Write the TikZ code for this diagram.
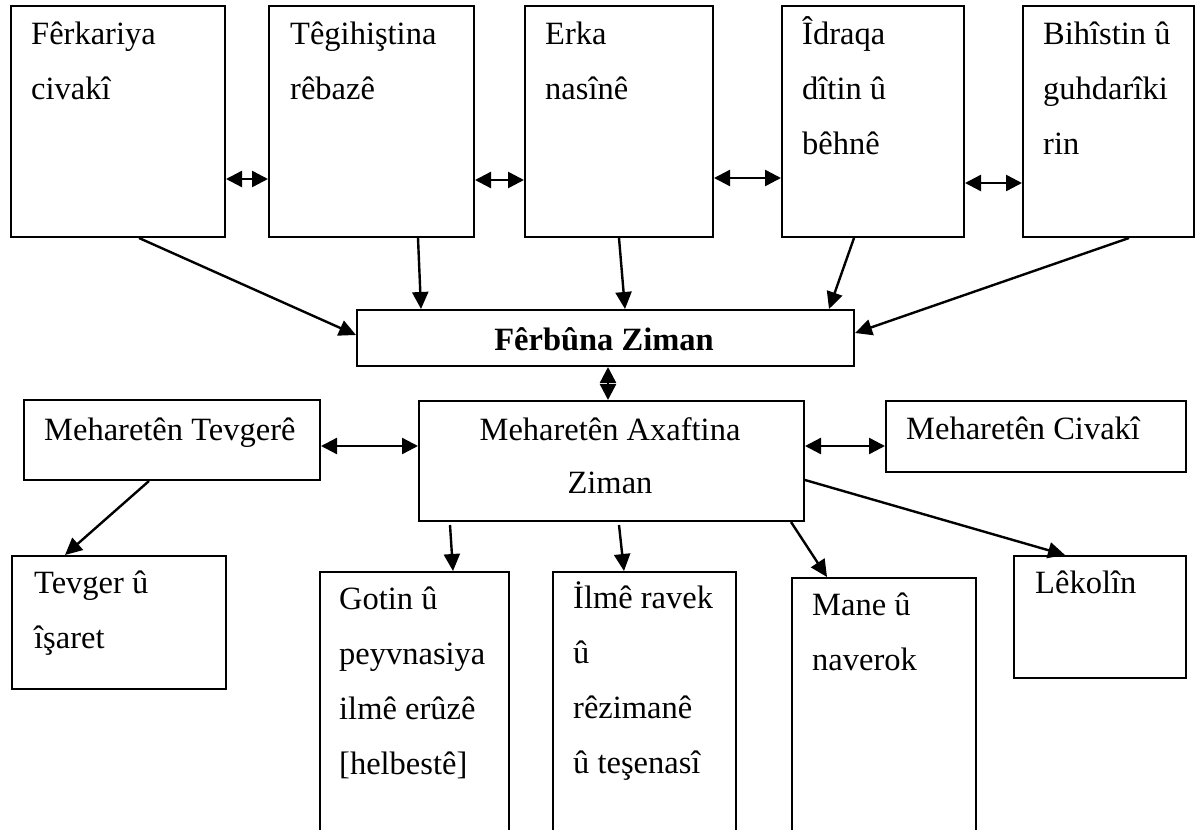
\documentclass[tikz,border=0pt]{standalone}
\usepackage{fontspec}
\setmainfont{Liberation Serif}
\usetikzlibrary{arrows.meta,calc}
\begin{document}
\begin{tikzpicture}[x=1pt,y=-1pt,
  box/.style={draw, line width=2pt, rectangle, inner sep=0pt, anchor=north west},
  txt/.style={font=\fontsize{32.5}{55}\selectfont, align=left, inner sep=0pt, anchor=base west},
  ctxt/.style={font=\fontsize{32.5}{53}\selectfont, align=center, inner sep=0pt, anchor=base},
  arr/.style={line width=2.4pt, -{Triangle[length=17pt,width=16pt]}},
  darr/.style={line width=2.4pt, {Triangle[length=16pt,width=16pt]}-{Triangle[length=16pt,width=16pt]}}]
\useasboundingbox (0,0) rectangle (1198,829);
% top row
\node[box, minimum width=214pt, minimum height=231pt] (b1) at (10,5) {};
\node[box, minimum width=205pt, minimum height=231pt] (b2) at (268,5) {};
\node[box, minimum width=188pt, minimum height=231pt] (b3) at (524,5) {};
\node[box, minimum width=182pt, minimum height=231pt] (b4) at (781,5) {};
\node[box, minimum width=171pt, minimum height=231pt] (b5) at (1022,5) {};
% (anchor base = baseline of the last line)
\node[txt] (t1) at (31,100) {Fêrkariya\\civakî};
\node[txt] (t2) at (290,100) {Têgihiştina\\rêbazê};
\node[txt] (t3) at (545,100) {Erka\\nasînê};
\node[txt] (t4) at (802,155) {Îdraqa\\dîtin û\\bêhnê};
\node[txt] (t5) at (1043,155) {Bihîstin û\\guhdarîki\\rin};
% centre
\node[box, minimum width=497pt, minimum height=56pt] (fz) at (356,309) {};
\node[ctxt, font=\fontsize{32.5}{53}\selectfont\bfseries] (tfz) at (604,350) {Fêrbûna Ziman};
\node[box, minimum width=296pt, minimum height=80pt] (tv) at (23,399) {};
\node[txt] (ttv) at (44,440) {Meharetên Tevgerê};
\node[box, minimum width=385pt, minimum height=120pt] (ax) at (418,400) {};
\node[ctxt] (tax) at (610,493) {Meharetên Axaftina\\Ziman};
\node[box, minimum width=300pt, minimum height=71pt] (cv) at (885,400) {};
\node[txt] (tcv) at (906,439) {Meharetên Civakî};
% bottom row
\node[box, minimum width=214pt, minimum height=133pt] (ti) at (11,555) {};
\node[txt] (tti) at (34,648) {Tevger û\\îşaret};
\node[box, minimum width=189pt, minimum height=300pt] (go) at (319,571) {};
\node[txt] (tgo) at (339,774) {Gotin û\\peyvnasiya\\ilmê erûzê\\{[}helbestê{]}};
\node[box, minimum width=183pt, minimum height=300pt] (il) at (552,571) {};
\node[txt] (til) at (573,773) {İlmê ravek\\û\\rêzimanê\\û teşenasî};
\node[box, minimum width=184pt, minimum height=300pt] (ma) at (791,577) {};
\node[txt] (tma) at (812,670) {Mane û\\naverok};
\node[box, minimum width=172pt, minimum height=122pt] (le) at (1013,555) {};
\node[txt] (tle) at (1035,593) {Lêkolîn};
% horizontal double arrows
\draw[darr] ($(b1.north east)+(0,174)$) -- ($(b2.north west)+(0,174)$);
\draw[darr] ($(b2.north east)+(0,175)$) -- ($(b3.north west)+(0,175)$);
\draw[darr] ($(b3.north east)+(0,173)$) -- ($(b4.north west)+(0,173)$);
\draw[darr] ($(b4.north east)+(0,178)$) -- ($(b5.north west)+(0,178)$);
% to Ferbuna
\draw[arr] ($(b1.south west)+(129,0)$) -- ($(fz.north west)+(0,26)$);
\draw[arr] ($(b2.south west)+(150,0)$) -- ($(fz.north west)+(65,0)$);
\draw[arr] ($(b3.south west)+(95,0)$) -- ($(fz.north west)+(269,0)$);
\draw[arr] ($(b4.south west)+(73,0)$) -- ($(fz.north west)+(473,0)$);
\draw[arr] ($(b5.south west)+(107,0)$) -- ($(fz.north east)+(0,24)$);
% middle
\draw[darr] ($(fz.south west)+(252,0)$) -- ($(ax.north west)+(190,0)$);
\draw[darr] ($(tv.north east)+(0,47)$) -- ($(ax.north west)+(0,46)$);
\draw[darr] ($(ax.north east)+(0,46)$) -- ($(cv.north west)+(0,46)$);
% downward
\draw[arr] ($(tv.south west)+(126,0)$) -- ($(ti.north west)+(54,0)$);
\draw[arr] ($(ax.south west)+(32,3)$) -- ($(go.north west)+(134,0)$);
\draw[arr] ($(ax.south west)+(201,3)$) -- ($(il.north west)+(72,0)$);
\draw[arr] ($(ax.south west)+(373,0)$) -- ($(ma.north west)+(36,0)$);
\draw[arr] ($(ax.north east)+(0,80)$) -- ($(le.north west)+(52,0)$);
\end{tikzpicture}
\end{document}
